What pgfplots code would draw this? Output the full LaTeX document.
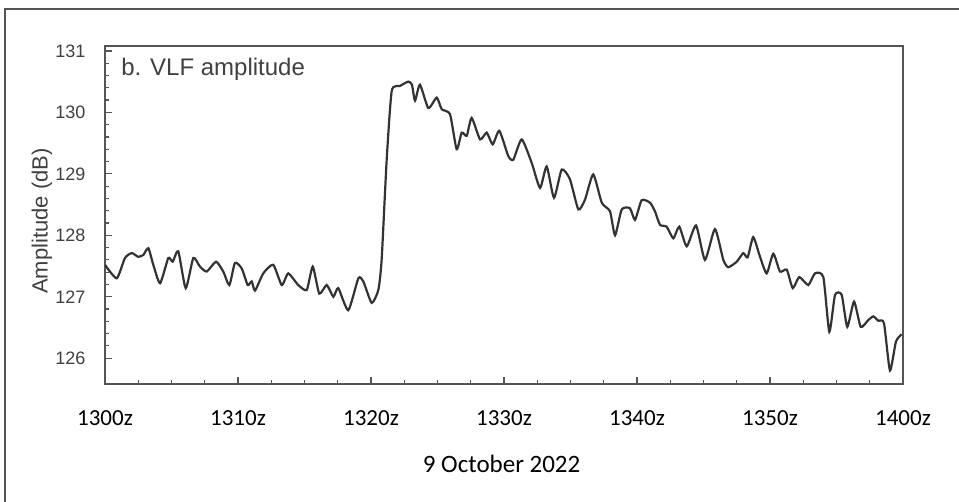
\documentclass[border=0pt]{standalone}
\usepackage{pgfplots}
\pgfplotsset{compat=1.18}
\usepackage{fontspec}
\setmainfont{Liberation Sans}
\newfontfamily\calfont{Carlito}
\newfontfamily\helv{Liberation Sans}
\definecolor{ink}{HTML}{333333}
\definecolor{axgray}{HTML}{555555}
\begin{document}
\begin{tikzpicture}[x=1pt,y=1pt]
\path[use as bounding box] (0,0) rectangle (959,502);
\draw[color=axgray, line width=1.4pt] (5,0) -- (5,493) -- (959,493);
\begin{axis}[
  at={(105pt,118pt)}, anchor=south west,
  scale only axis, width=798pt, height=338pt,
  xmin=0, xmax=60, ymin=125.58, ymax=131.08,
  axis line style={color=axgray, line width=1.6pt},
  xtick={0,10,20,30,40,50,60},
  xticklabels={1300z,1310z,1320z,1330z,1340z,1350z,1400z},
  minor x tick num=3,
  ytick={126,127,128,129,130,131},
  minor y tick num=4,
  xtick pos=lower, ytick pos=left,
  tick align=inside,
  major tick length=7pt, minor tick length=4pt,
  tick style={color=axgray, line width=1.2pt},
  /pgf/number format/assume math mode=true,
  /pgf/number format/set thousands separator={},
  xticklabel style={font=\calfont\fontsize{23}{26}\selectfont, text=black, anchor=base, yshift=-42pt},
  yticklabel style={font=\helv\fontsize{18}{20}\selectfont, text=black!75, xshift=-16pt},
  ylabel={Amplitude (dB)},
  ylabel style={at={(axis description cs:-0.079,0.482)}, anchor=center, font=\helv\fontsize{22}{24}\selectfont, text=black!75},
  xlabel={9 October 2022},
  xlabel style={at={(axis description cs:0.497,0)}, anchor=base, yshift=-89pt, font=\calfont\fontsize{25}{28}\selectfont, text=black},
]
\addplot[color=ink, line width=2.2pt, smooth, tension=0.35] coordinates {
(0.00,127.52) (0.88,127.30) (1.50,127.63) (2.01,127.71) (2.50,127.65) (2.88,127.68)
(3.26,127.79) (3.63,127.52) (4.14,127.22) (4.76,127.63) (5.09,127.57) (5.51,127.74)
(6.07,127.14) (6.64,127.63) (7.14,127.49) (7.65,127.41) (8.35,127.57) (8.89,127.41)
(9.35,127.19) (9.77,127.55) (10.28,127.46) (10.73,127.19) (11.03,127.25) (11.28,127.10)
(11.90,127.38) (12.65,127.52) (13.29,127.19) (13.78,127.38) (14.53,127.19) (15.17,127.11)
(15.62,127.49) (16.11,127.05) (16.67,127.19) (17.17,127.00) (17.54,127.14) (18.29,126.78)
(19.05,127.30) (19.42,127.25) (20.05,126.90) (20.55,127.11) (20.80,127.60) (21.18,129.23)
(21.56,130.35) (22.18,130.43) (22.80,130.50) (23.08,130.45) (23.31,130.19) (23.68,130.45)
(24.31,130.07) (24.94,130.24) (25.32,130.05) (25.94,129.97) (26.44,129.40) (26.82,129.67)
(27.20,129.62) (27.57,129.91) (28.20,129.56) (28.70,129.67) (29.15,129.48) (29.65,129.70)
(30.32,129.29) (30.70,129.23) (31.33,129.56) (32.08,129.18) (32.71,128.77) (33.21,129.12)
(33.76,128.61) (34.34,129.07) (34.96,128.91) (35.59,128.42) (36.09,128.58) (36.71,128.99)
(37.35,128.53) (37.97,128.39) (38.35,128.00) (38.85,128.42) (39.47,128.44) (39.85,128.25)
(40.35,128.57) (40.98,128.53) (41.35,128.39) (41.73,128.17) (42.23,128.14) (42.73,127.95)
(43.18,128.14) (43.74,127.82) (44.44,128.16) (45.11,127.60) (45.86,128.10) (46.49,127.60)
(46.86,127.48) (47.50,127.57) (47.99,127.71) (48.32,127.64) (48.74,127.97) (49.25,127.65)
(49.75,127.38) (50.25,127.70) (50.75,127.41) (51.26,127.44) (51.71,127.14) (52.20,127.32)
(52.88,127.19) (53.38,127.38) (54.01,127.32) (54.46,126.43) (54.89,127.03) (55.39,127.03)
(55.81,126.51) (56.32,126.92) (56.82,126.51) (57.39,126.62) (57.77,126.68) (58.14,126.61)
(58.57,126.57) (59.02,125.80) (59.47,126.27) (59.90,126.39)
};
\node[anchor=base west, font=\helv\fontsize{24}{26}\selectfont, text=black!75] at (axis description cs:0.016,0.914) {b. VLF amplitude};
\end{axis}
\end{tikzpicture}
\end{document}
